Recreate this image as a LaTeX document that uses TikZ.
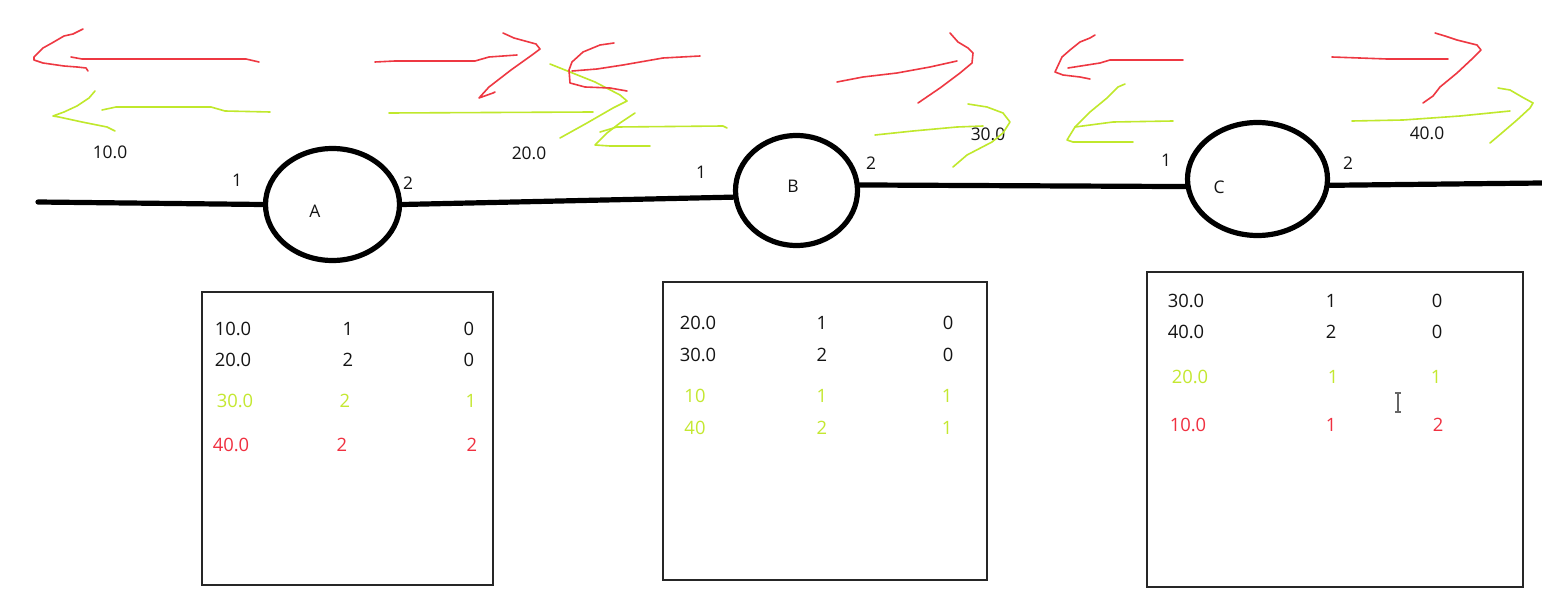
\documentclass[tikz,border=0pt]{standalone}
\usepackage{fontspec}
\setmainfont{Open Sans}
\usetikzlibrary{shapes.geometric}
\definecolor{pred}{RGB}{238,56,66}
\definecolor{pgreen}{RGB}{192,232,44}
\definecolor{tred}{RGB}{240,48,64}
\definecolor{tgreen}{RGB}{196,232,48}
\definecolor{tblack}{RGB}{20,20,20}
\begin{document}
\begin{tikzpicture}[x=0.5pt,y=-0.5pt,
  pen/.style={line width=0.8pt, line cap=round, line join=round},
  redpen/.style={pen, draw=pred},
  greenpen/.style={pen, draw=pgreen},
  wire/.style={line width=2.6pt, line cap=round},
  station/.style={ellipse, draw, line width=2.6pt, inner sep=0pt},
  lbl/.style={font=\fontsize{8.7}{10}\selectfont, inner sep=0pt, text=tblack},
  cell/.style={font=\fontsize{9.2}{11}\selectfont, inner sep=0pt, text=tblack},
  gcell/.style={cell, text=tgreen},
  rcell/.style={cell, text=tred},
  tbox/.style={draw=black!85, line width=0.7pt}]
\useasboundingbox (0,0) rectangle (1542,615);
\fill[white] (0,0) rectangle (1542,615);

% stations
\node[station, minimum width=67pt, minimum height=56pt] (A) at (332.5,204.5) {};
\node[station, minimum width=61pt, minimum height=55pt] (B) at (796.5,190.5) {};
\node[station, minimum width=70pt, minimum height=56.5pt] (C) at (1257.5,179) {};
\coordinate (W0) at (38,202);
\coordinate (W1) at (1542,183);
\draw[wire] (W0) -- (A.west);
\draw[wire] (A.east) -- (B.186);
\draw[wire] (B.5) -- (C.186);
\draw[wire] (C.355) -- (W1);

% station labels
\node[lbl] (An) at (315,211) {A};
\node[lbl] (A1) at (237,180) {1};
\node[lbl] (A2) at (408,183) {2};
\node[lbl] (Bn) at (793,186) {B};
\node[lbl] (B1) at (701,172) {1};
\node[lbl] (B2) at (871,163) {2};
\node[lbl] (Cn) at (1219,187) {C};
\node[lbl] (C1) at (1166,160) {1};
\node[lbl] (C2) at (1348,163) {2};

% distance labels
\node[lbl] (d10) at (110,152) {10.0};
\node[lbl] (d20) at (529,153) {20.0};
\node[lbl] (d30) at (988,134) {30.0};
\node[lbl] (d40) at (1427,133) {40.0};

% hand drawn arrows near A
\draw[redpen] (71,57) -- (82,59) -- (246,59) -- (259,62);
\draw[redpen] (83,29) -- (73,34) -- (64,36) -- (52,43) -- (43,48) -- (34,57) -- (34,60) -- (43,63) -- (64,66) -- (77,67) -- (86,68) -- (88,71);
\draw[greenpen] (102,110) -- (116,107) -- (211,107) -- (225,111) -- (270,112);
\draw[greenpen] (95,91) -- (89,98) -- (77,106) -- (64,112) -- (53,116) -- (59,117) -- (82,122) -- (107,127) -- (115,131);
\draw[redpen] (375,62) -- (395,61) -- (475,61) -- (489,57) -- (517,55);
\draw[redpen] (503,33) -- (514,38) -- (536,44) -- (540,49) -- (532,55) -- (511,70) -- (489,87) -- (479,98) -- (493,93) -- (495,92);
\draw[greenpen] (389,113) -- (593,112);
\draw[greenpen] (550,64) -- (570,72) -- (595,82) -- (620,95) -- (627,101) -- (613,108) -- (587,123) -- (560,138);

% near B
\draw[redpen] (700,56) -- (663,58) -- (623,65) -- (597,69) -- (572,71);
\draw[redpen] (614,43) -- (600,45) -- (583,52) -- (572,62) -- (569,70) -- (570,83) -- (585,87) -- (610,88) -- (627,91);
\draw[greenpen] (600,132) -- (617,127) -- (723,126) -- (727,128);
\draw[greenpen] (635,113) -- (620,123) -- (607,133) -- (595,145) -- (610,146) -- (650,146);
\draw[redpen] (837,82) -- (863,77) -- (897,73) -- (930,67) -- (957,61);
\draw[redpen] (950,33) -- (958,42) -- (968,48) -- (973,53) -- (972,63) -- (960,73) -- (940,88) -- (918,103);
\draw[greenpen] (875,135) -- (913,131) -- (957,127) -- (983,126);
\draw[greenpen] (968,104) -- (987,107) -- (1003,113) -- (1010,122) -- (1003,133) -- (992,142) -- (967,155) -- (953,167);

% near C
\draw[redpen] (1183,60) -- (1110,60) -- (1100,63) -- (1068,68);
\draw[redpen] (1095,35) -- (1090,38) -- (1080,42) -- (1070,50) -- (1062,57) -- (1055,72) -- (1063,75) -- (1080,77) -- (1090,79);
\draw[greenpen] (1173,121) -- (1113,122) -- (1075,127);
\draw[greenpen] (1125,84) -- (1118,87) -- (1107,98) -- (1090,112) -- (1075,127) -- (1067,140) -- (1073,142) -- (1133,142);
\draw[redpen] (1332,57) -- (1387,59) -- (1448,59);
\draw[redpen] (1435,33) -- (1445,36) -- (1457,40) -- (1477,45) -- (1481,50) -- (1473,58) -- (1457,73) -- (1440,87) -- (1433,96) -- (1423,103);
\draw[greenpen] (1352,121) -- (1403,120) -- (1460,116) -- (1510,111);
\draw[greenpen] (1498,88) -- (1510,90) -- (1522,97) -- (1533,103) -- (1530,108) -- (1517,120) -- (1503,132) -- (1490,143);

% table A
\draw[tbox] (202,292) rectangle (493,585);
\node[cell] (ta11) at (233,329) {10.0};
\node[cell] (ta12) at (348,329) {1};
\node[cell] (ta13) at (469,329) {0};
\node[cell] (ta21) at (233,360) {20.0};
\node[cell] (ta22) at (348,360) {2};
\node[cell] (ta23) at (469,360) {0};
\node[gcell] (ta31) at (235,401) {30.0};
\node[gcell] (ta32) at (345,401) {2};
\node[gcell] (ta33) at (471,401) {1};
\node[rcell] (ta41) at (231,445) {40.0};
\node[rcell] (ta42) at (342,445) {2};
\node[rcell] (ta43) at (472,445) {2};

% table B
\draw[tbox] (663,282) rectangle (987,580);
\node[cell] (tb11) at (698,323) {20.0};
\node[cell] (tb12) at (822,323) {1};
\node[cell] (tb13) at (948,323) {0};
\node[cell] (tb21) at (698,355) {30.0};
\node[cell] (tb22) at (822,355) {2};
\node[cell] (tb23) at (948,355) {0};
\node[gcell] (tb31) at (695,396) {10};
\node[gcell] (tb32) at (822,396) {1};
\node[gcell] (tb33) at (947,396) {1};
\node[gcell] (tb41) at (695,428) {40};
\node[gcell] (tb42) at (822,428) {2};
\node[gcell] (tb43) at (947,428) {1};

% table C
\draw[tbox] (1147,272) rectangle (1523,587);
\node[cell] (tc11) at (1186,301) {30.0};
\node[cell] (tc12) at (1331,301) {1};
\node[cell] (tc13) at (1437,301) {0};
\node[cell] (tc21) at (1186,332) {40.0};
\node[cell] (tc22) at (1331,332) {2};
\node[cell] (tc23) at (1437,332) {0};
\node[gcell] (tc31) at (1190,377) {20.0};
\node[gcell] (tc32) at (1333,377) {1};
\node[gcell] (tc33) at (1436,377) {1};
\node[rcell] (tc41) at (1188,425) {10.0};
\node[rcell] (tc42) at (1331,425) {1};
\node[rcell] (tc43) at (1438,425) {2};

% text cursor
\draw[black!60, line width=0.6pt] (1398,394) -- (1398,411)
  (1395,393) -- (1401,393) (1395,412) -- (1401,412);
\end{tikzpicture}
\end{document}
